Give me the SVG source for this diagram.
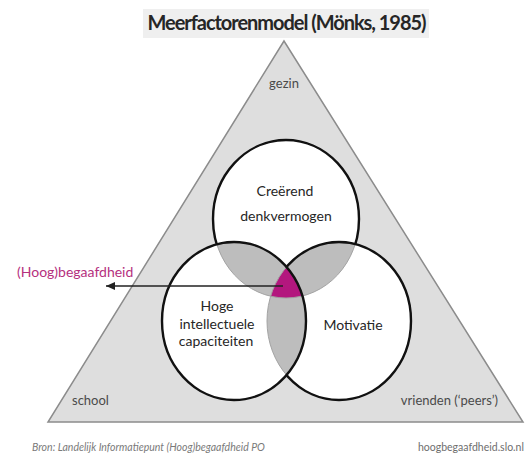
<svg xmlns="http://www.w3.org/2000/svg" width="526" height="456" viewBox="0 0 526 456">
<style>
.t{font-family:Lato,"Liberation Sans",sans-serif;fill:#262626;}
.c{text-anchor:middle;font-size:14px;}
.env{font-family:Lato,"Liberation Sans",sans-serif;font-size:13px;fill:#4a4a4a;}
.blk{fill:none;stroke:#111;stroke-width:2.4;}
.gry{fill:none;stroke:#a3a3a3;stroke-width:1;}
</style>
<defs>
<clipPath id="cpL"><ellipse cx="234" cy="321" rx="72" ry="79"/></clipPath>
<clipPath id="cpR"><ellipse cx="339" cy="321" rx="72" ry="79"/></clipPath>
<mask id="notLR" maskUnits="userSpaceOnUse" x="0" y="0" width="526" height="456">
<rect x="0" y="0" width="526" height="456" fill="#fff"/>
<ellipse cx="234" cy="321" rx="72" ry="79" fill="#000"/>
<ellipse cx="339" cy="321" rx="72" ry="79" fill="#000"/>
</mask>
<mask id="notL" maskUnits="userSpaceOnUse" x="0" y="0" width="526" height="456">
<rect x="0" y="0" width="526" height="456" fill="#fff"/>
<ellipse cx="234" cy="321" rx="72" ry="79" fill="#000"/>
</mask>
<marker id="ah" markerUnits="userSpaceOnUse" markerWidth="10" markerHeight="8" refX="9" refY="4" orient="auto">
<path d="M0,0 L9,4 L0,8 z" fill="#222"/>
</marker>
</defs>
<rect width="526" height="456" fill="#fff"/>

<g id="title">
<rect x="143" y="9" width="286" height="29" fill="#efefef"/>
<text class="t" x="287" y="30" text-anchor="middle" font-size="20" font-weight="bold" fill="#1c1c1c" textLength="279" lengthAdjust="spacing">Meerfactorenmodel (Mönks, 1985)</text>
</g>

<g id="triangle">
<polygon points="284,41 48,422 523,422" fill="#dedede" stroke="#8c8c8c" stroke-width="1.5"/>
<text class="env" x="284" y="88" text-anchor="middle" fill="#595959">gezin</text>
<text class="env" x="72" y="405">school</text>
<text class="env" x="498" y="405" text-anchor="end">vrienden (‘peers’)</text>
</g>

<g id="venn">
<ellipse cx="286" cy="219" rx="73" ry="79" fill="#fff"/>
<ellipse cx="234" cy="321" rx="72" ry="79" fill="#fff"/>
<ellipse cx="339" cy="321" rx="72" ry="79" fill="#fff"/>
<ellipse cx="286" cy="219" rx="73" ry="79" fill="#bdbdbd" clip-path="url(#cpL)"/>
<ellipse cx="286" cy="219" rx="73" ry="79" fill="#bdbdbd" clip-path="url(#cpR)"/>
<ellipse cx="234" cy="321" rx="72" ry="79" fill="#bdbdbd" clip-path="url(#cpR)"/>
<g clip-path="url(#cpR)"><ellipse cx="286" cy="219" rx="73" ry="79" fill="#b3177e" clip-path="url(#cpL)"/></g>
<ellipse class="gry" cx="286" cy="219" rx="73" ry="79"/>
<ellipse class="blk" cx="286" cy="219" rx="73" ry="79" mask="url(#notLR)"/>
<ellipse class="gry" cx="339" cy="321" rx="72" ry="79"/>
<ellipse class="blk" cx="339" cy="321" rx="72" ry="79" mask="url(#notL)"/>
<ellipse class="blk" cx="234" cy="321" rx="72" ry="79"/>
</g>

<g id="node-creerend">
<text class="t c" x="285" y="196">Creërend</text>
<text class="t c" x="286" y="221">denkvermogen</text>
</g>
<g id="node-hoge">
<text class="t c" x="217" y="311">Hoge</text>
<text class="t c" x="217" y="328.5">intellectuele</text>
<text class="t c" x="216" y="346">capaciteiten</text>
</g>
<g id="node-motivatie">
<text class="t c" x="353" y="330">Motivatie</text>
</g>

<g id="connectors">
<line x1="283" y1="286" x2="106" y2="286" stroke="#222" stroke-width="1.5" marker-end="url(#ah)"/>
</g>
<g id="label-hoogbegaafdheid">
<text x="17" y="277" font-family="Lato,'Liberation Sans',sans-serif" font-size="14" fill="#b5307e">(Hoog)begaafdheid</text>
</g>

<g id="footer">
<text x="32" y="451" font-family="Lato,'Liberation Sans',sans-serif" font-size="10.5" font-style="italic" fill="#7a7a7a">Bron: Landelijk Informatiepunt (Hoog)begaafdheid PO</text>
<text x="418" y="451" font-family="Lato,'Liberation Sans',sans-serif" font-size="10.5" fill="#6e6e6e">hoogbegaafdheid.slo.nl</text>
</g>
</svg>
